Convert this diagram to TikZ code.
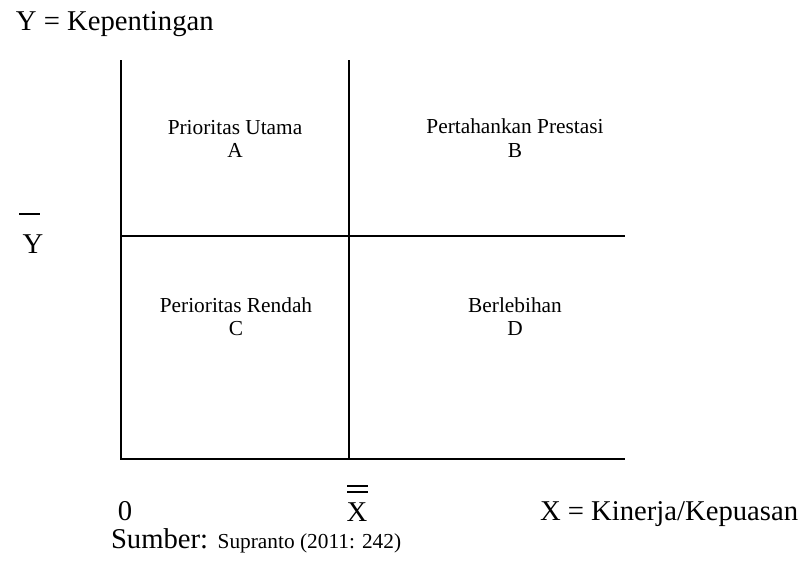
\documentclass[tikz,border=0pt]{standalone}
\usepackage{fontspec}
\setmainfont{Liberation Serif}

\begin{document}
\begin{tikzpicture}[
        x=0.75pt,y=-0.75pt,
        every node/.style={inner sep=0pt,anchor=base},
        big/.style={font=\fontsize{21.5}{26}\selectfont},
        small/.style={font=\fontsize{16}{19}\selectfont},
        line width=1.5pt
    ]
        \useasboundingbox (0,0) rectangle (807,562);

        \coordinate (o) at (121,459);
        \coordinate (ytop) at (121,60);
        \coordinate (xend) at (625,459);
        \coordinate (mtop) at (349,60);
        \coordinate (mbot) at (349,459);
        \coordinate (mleft) at (121,236);
        \coordinate (mright) at (625,236);

        \draw (ytop) -- (o) -- (xend);
        \draw (mtop) -- (mbot);
        \draw (mleft) -- (mright);

        \node[big,anchor=base west] (ylabel) at (15,30) {Y = Kepentingan};
        \node[big,anchor=base west] (xlabel) at (539,520) {X = Kinerja/Kepuasan};
        \node[big] (zero) at (125,520) {0};
        \node[big] (ymean) at (33,253) {Y};
        \node[big] (xmean) at (357,521) {X};
        \draw (19,214) -- (40,214);
        \draw (347,486) -- (368,486);
        \draw (347,492) -- (368,492);

        \node[small] (qa) at (235,134) {Prioritas Utama};
        \node[small] (qaletter) at (235,157) {A};
        \node[small] (qb) at (515,133) {Pertahankan Prestasi};
        \node[small] (qbletter) at (515,157) {B};
        \node[small] (qc) at (236,312) {Perioritas Rendah};
        \node[small] (qcletter) at (236,335) {C};
        \node[small] (qd) at (515,312) {Berlebihan};
        \node[small] (qdletter) at (515,335) {D};

        \node[big,anchor=base west] (src) at (110,548) {Sumber: {\fontsize{16}{19}\selectfont Supranto (2011: 242)}};
    \end{tikzpicture}
\end{document}
